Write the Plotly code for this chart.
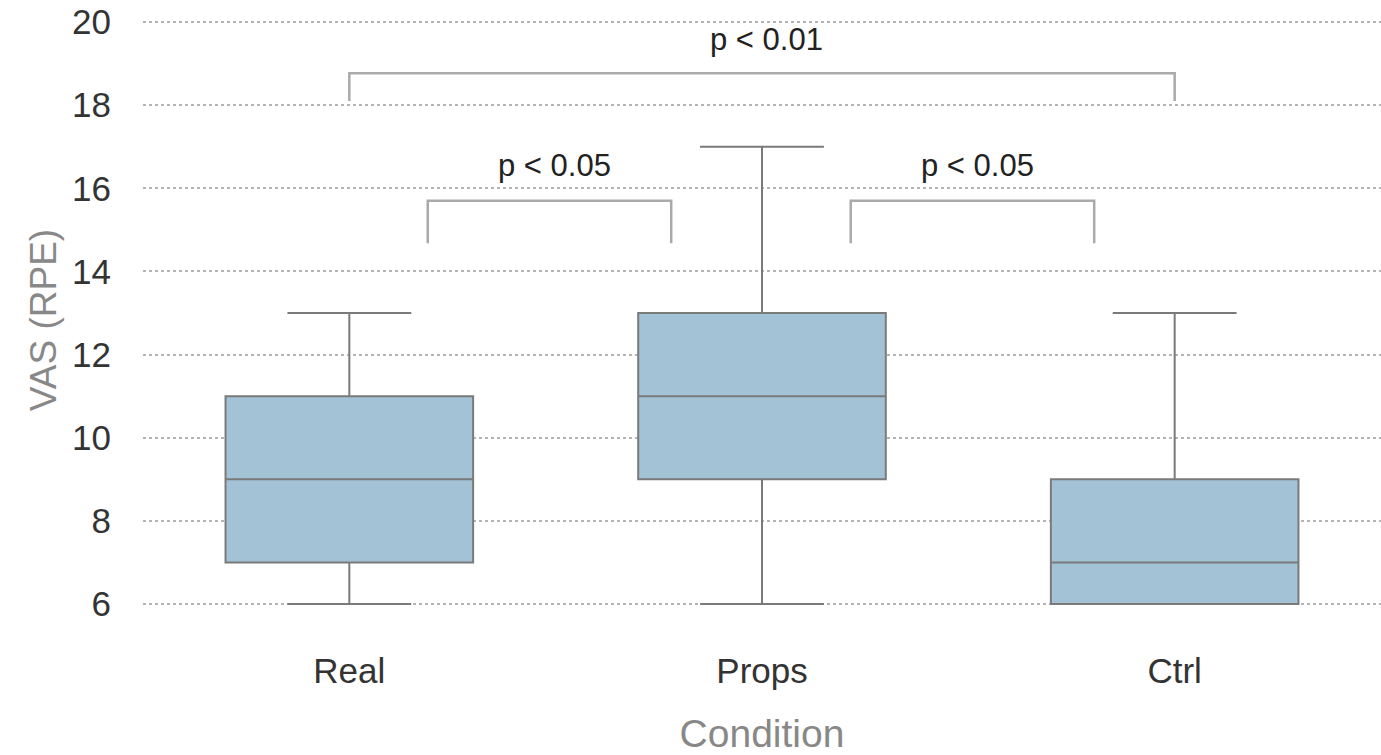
import plotly.graph_objects as go

conditions = ["Real", "Props", "Ctrl"]
mins = [6, 6, 6]
q1s = [7, 9, 6]
medians = [9, 11, 7]
q3s = [11, 13, 9]
maxs = [13, 17, 13]

# significance brackets: (x_start, x_end, bar height, leg bottom, label, label height)
bracket_x0 = [0.19, 1.215, 0.0]
bracket_x1 = [0.78, 1.805, 2.0]
bracket_top = [15.7, 15.7, 18.77]
bracket_bottom = [14.68, 14.68, 18.1]
bracket_labels = ["p < 0.05", "p < 0.05", "p < 0.01"]
label_y = [16.56, 16.56, 19.57]

y_ticks = [6, 8, 10, 12, 14, 16, 18, 20]

fig = go.Figure()
fig.add_trace(go.Box(
    x=conditions,
    lowerfence=mins, q1=q1s, median=medians, q3=q3s, upperfence=maxs,
    fillcolor="#a3c2d6",
    line=dict(color="#7a7a7a", width=2),
    width=0.6,
    whiskerwidth=0.5,
    boxpoints=False,
    showlegend=False,
))

shapes = []
annotations = []
for x0, x1, yt, yb, lab, ly in zip(bracket_x0, bracket_x1, bracket_top, bracket_bottom, bracket_labels, label_y):
    shapes.append(dict(
        type="path", xref="x", yref="y",
        path=f"M {x0} {yb} L {x0} {yt} L {x1} {yt} L {x1} {yb}",
        line=dict(color="#aaaaaa", width=2.5),
    ))
    annotations.append(dict(
        x=(x0 + x1) / 2 + 0.012, y=ly, xref="x", yref="y",
        text=lab, showarrow=False, yanchor="middle",
        font=dict(size=31, color="#222222", family="Liberation Sans"),
    ))

fig.update_layout(
    width=1381, height=755,
    margin=dict(l=143, r=0, t=10, b=125),
    paper_bgcolor="white", plot_bgcolor="white",
    font=dict(family="Liberation Sans", color="#333333"),
    shapes=shapes,
    annotations=annotations,
    xaxis=dict(
        title=dict(text="Condition", font=dict(size=39, color="#888888"), standoff=30),
        tickfont=dict(size=35, color="#333333"),
        showgrid=False, zeroline=False, showline=False,
        range=[-0.5, 2.5],
        ticks="outside", ticklen=10, tickcolor="rgba(0,0,0,0)",
    ),
    yaxis=dict(
        title=dict(text="VAS (RPE)", font=dict(size=37, color="#888888"), standoff=4),
        tickfont=dict(size=35, color="#333333"),
        range=[5.375, 20.29],
        tickvals=y_ticks,
        showgrid=True, gridcolor="#b5b5b5", griddash="dot", gridwidth=2,
        zeroline=False, showline=False,
        ticks="outside", ticklen=24, tickcolor="rgba(0,0,0,0)",
    ),
)

fig.write_html("out.html")
